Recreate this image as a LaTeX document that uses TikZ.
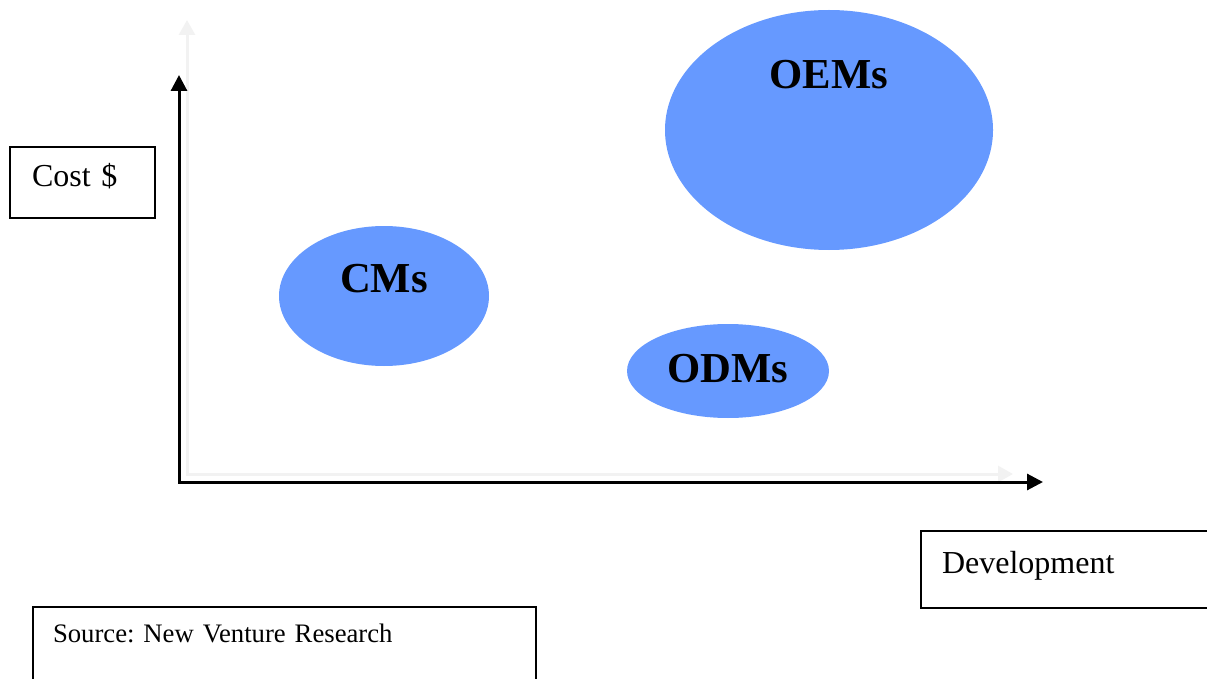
\documentclass[tikz,border=0pt]{standalone}
\usepackage{fontspec}
\setmainfont[WordSpace=0.8]{Liberation Serif}
\usetikzlibrary{arrows.meta,shapes.geometric}
\definecolor{bubblefill}{HTML}{6699FF}
\definecolor{axisshade}{HTML}{F2F2F2}
\frenchspacing

\begin{document}
\begin{tikzpicture}[x=1pt,y=-1pt,
	bubble/.style={ellipse,fill=bubblefill,inner sep=0pt,text height=29pt,
		font=\fontsize{42.7}{50}\selectfont\bfseries},
	labelbox/.style={draw,line width=2pt,anchor=north west,align=left,
		inner ysep=0pt,outer sep=0pt,font=\fontsize{32}{38}\selectfont\frenchspacing}]
	\clip (0,0) rectangle (1207,679);
	% faint shadow of the axes
	\coordinate (s-o) at (187,474);
	\coordinate (s-y) at (187,20);
	\coordinate (s-x) at (1013,474);
	\draw[color=axisshade,line width=3pt,{Triangle[length=15pt,width=16pt]}-{Triangle[length=15pt,width=16pt]}]
	(s-y) -- (s-o) -- (s-x);
	% axes
	\coordinate (o) at (179,482);
	\coordinate (y) at (179,75);
	\coordinate (x) at (1043,482);
	\draw[line width=3pt,{Triangle[length=16pt,width=16pt]}-{Triangle[length=16pt,width=16pt]}]
	(y) -- (o) -- (x);
	% bubbles
	\node[bubble,minimum width=328pt,minimum height=240pt,text depth=111pt] (oem) at (829,130) {OEMs};
	\node[bubble,minimum width=210pt,minimum height=140pt,text depth=37pt] (cm) at (384,296) {CMs};
	\node[bubble,minimum width=202pt,minimum height=94pt,text depth=7pt] (odm) at (728,371) {ODMs};
	% boxes
	\node[labelbox,text width=101pt,inner xsep=22pt,text height=40pt,text depth=31pt] (cost) at (10,147) {Cost \$};
	\node[labelbox,text width=280pt,inner xsep=21pt,text height=42pt,text depth=35pt] (dev) at (921,531) {Development};
	\node[labelbox,text width=463pt,inner xsep=20pt,text height=35pt,text depth=50pt,
		font=\fontsize{26.7}{32}\selectfont\frenchspacing] (src) at (33,607) {Source: New Venture Research};
\end{tikzpicture}
\end{document}
